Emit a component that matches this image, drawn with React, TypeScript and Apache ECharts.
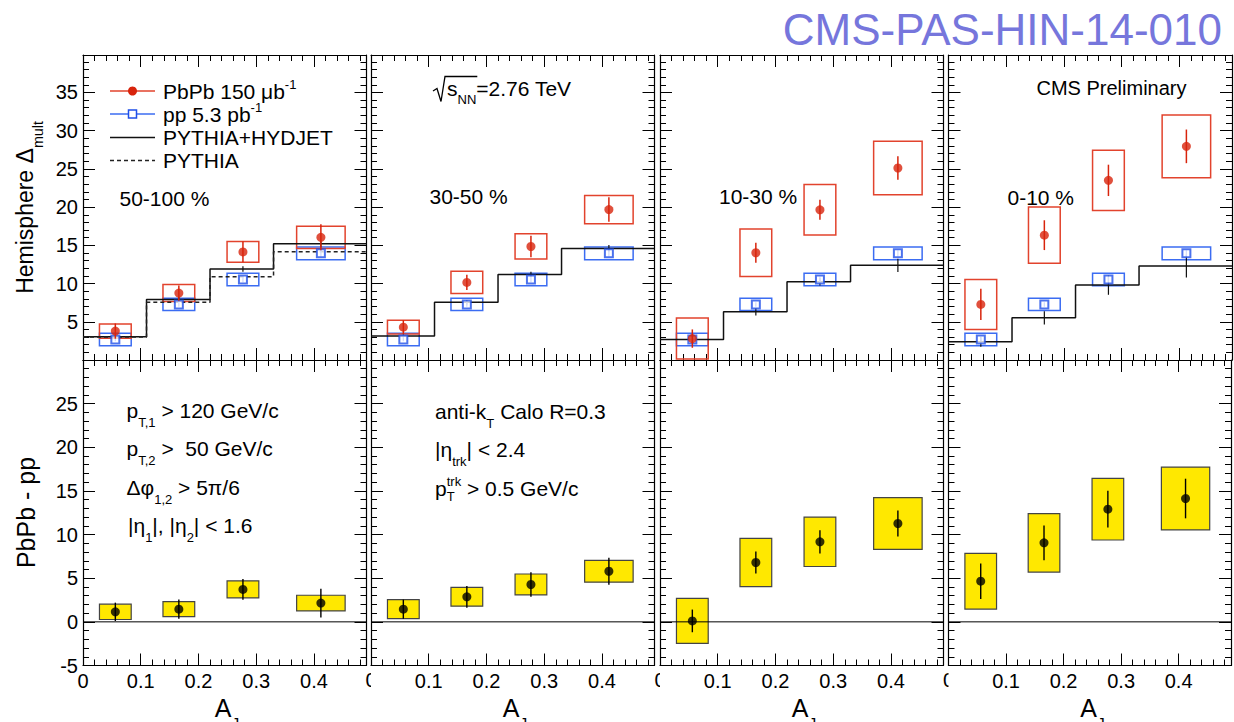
import React, { useEffect, useRef } from "react";
import * as echarts from "echarts";

// ---------------- data ----------------
const AJ_MEAN = [0.056, 0.166, 0.277, 0.412];
const BIN_EDGES = [0, 0.11, 0.22, 0.33, 0.491];
const BOX_HALF_WIDTH = [0.0275, 0.0275, 0.0275, 0.042];
const CENTRALITY = ["50-100 %", "30-50 %", "10-30 %", "0-10 %"];

const X_TICKS = [0, 0.1, 0.2, 0.3, 0.4];
const X_TICK_LABELS = ["0", "0.1", "0.2", "0.3", "0.4"];
const TOP_Y_TICKS = [5, 10, 15, 20, 25, 30, 35];
const BOT_Y_TICKS = [-5, 0, 5, 10, 15, 20, 25];

// PbPb hemisphere Delta_mult, per centrality (50-100, 30-50, 10-30, 0-10)
const PBPB_50_100 = [3.78, 8.76, 14.14, 16.05];
const PBPB_30_50 = [4.3, 10.15, 14.85, 19.68];
const PBPB_10_30 = [2.8, 14.03, 19.65, 25.12];
const PBPB_0_10 = [7.27, 16.33, 23.5, 27.95];
const PBPB_STAT_50_100 = [1.0, 1.0, 1.35, 1.7];
const PBPB_STAT_30_50 = [0.9, 1.0, 1.4, 1.6];
const PBPB_STAT_10_30 = [1.2, 1.3, 1.3, 1.55];
const PBPB_STAT_0_10 = [2.05, 1.95, 2.05, 2.2];
const PBPB_SYS_50_100 = [0.93, 1.12, 1.35, 1.46];
const PBPB_SYS_30_50 = [0.9, 1.46, 1.65, 1.85];
const PBPB_SYS_10_30 = [2.68, 3.1, 3.3, 3.5];
const PBPB_SYS_0_10 = [3.27, 3.67, 3.93, 4.1];

// pp reference (same in every panel)
const PP_VAL = [2.69, 7.27, 10.53, 13.95];
const PP_STAT = [0.25, 0.3, 0.35, 0.4];
const PP_SYS = [0.81, 0.81, 0.82, 0.82];

// PYTHIA+HYDJET histogram per centrality and its stat errors
const HYDJET_50_100 = [3.04, 7.93, 11.9, 15.2];
const HYDJET_30_50 = [3.13, 7.54, 11.2, 14.6];
const HYDJET_10_30 = [2.69, 6.31, 10.24, 12.38];
const HYDJET_0_10 = [2.38, 5.52, 9.8, 12.29];
const HYDJET_ERR_50_100 = [0.2, 0.3, 0.35, 0.45];
const HYDJET_ERR_30_50 = [0.2, 0.3, 0.35, 0.45];
const HYDJET_ERR_10_30 = [0.3, 0.5, 0.5, 0.87];
const HYDJET_ERR_0_10 = [0.65, 0.87, 1.27, 1.5];
const PYTHIA = [3.0, 7.54, 10.9, 14.16];

// PbPb - pp
const DIFF_50_100 = [1.15, 1.45, 3.72, 2.15];
const DIFF_30_50 = [1.45, 2.87, 4.28, 5.8];
const DIFF_10_30 = [0.11, 6.8, 9.17, 11.27];
const DIFF_0_10 = [4.66, 9.05, 12.91, 14.13];
const DIFF_STAT_50_100 = [1.05, 1.1, 1.2, 1.65];
const DIFF_STAT_30_50 = [1.1, 1.25, 1.4, 1.55];
const DIFF_STAT_10_30 = [1.3, 1.25, 1.33, 1.5];
const DIFF_STAT_0_10 = [2.04, 2.0, 2.1, 2.27];
const DIFF_SYS_50_100 = [0.88, 0.86, 0.98, 0.9];
const DIFF_SYS_30_50 = [1.09, 1.07, 1.2, 1.25];
const DIFF_SYS_10_30 = [2.58, 2.77, 2.83, 2.96];
const DIFF_SYS_0_10 = [3.19, 3.35, 3.53, 3.6];

const PBPB = [PBPB_50_100, PBPB_30_50, PBPB_10_30, PBPB_0_10];
const PBPB_STAT = [PBPB_STAT_50_100, PBPB_STAT_30_50, PBPB_STAT_10_30, PBPB_STAT_0_10];
const PBPB_SYS = [PBPB_SYS_50_100, PBPB_SYS_30_50, PBPB_SYS_10_30, PBPB_SYS_0_10];
const HYDJET = [HYDJET_50_100, HYDJET_30_50, HYDJET_10_30, HYDJET_0_10];
const HYDJET_ERR = [HYDJET_ERR_50_100, HYDJET_ERR_30_50, HYDJET_ERR_10_30, HYDJET_ERR_0_10];
const DIFF = [DIFF_50_100, DIFF_30_50, DIFF_10_30, DIFF_0_10];
const DIFF_STAT = [DIFF_STAT_50_100, DIFF_STAT_30_50, DIFF_STAT_10_30, DIFF_STAT_0_10];
const DIFF_SYS = [DIFF_SYS_50_100, DIFF_SYS_30_50, DIFF_SYS_10_30, DIFF_SYS_0_10];

// ---------------- layout & style ----------------
const FONT = '"Liberation Sans", Arial, Helvetica, sans-serif';
const RED = "#d8240c";
const RED_BOX = "#e2432d";
const BLUE = "#1f4fe8";
const BLUE_BOX = "#3b6cf2";
const YELLOW = "#ffe800";
const TITLE_COLOR = "#7676dc";

const COL_LEFT = [83, 371, 660, 948.5];
const PANEL_W = 283.5;
const ROW_TOP = [55, 360];
const ROW_H = [305, 305.5];
const X_MAX = 0.491;
const Y_RANGE = [
  [0, 39.9],
  [-5, 30],
];

let measureCtx: CanvasRenderingContext2D | null = null;
function textWidth(t: string, size: number): number {
  if (!measureCtx) measureCtx = document.createElement("canvas").getContext("2d");
  if (!measureCtx) return t.length * size * 0.55;
  measureCtx.font = `${size}px ${FONT}`;
  return measureCtx.measureText(t).width;
}

function txt(x: number, y: number, text: string, size: number, color = "#000", align = "left") {
  return {
    type: "text",
    x,
    y,
    silent: true,
    style: {
      text,
      fontSize: size,
      fontFamily: FONT,
      fill: color,
      align,
      verticalAlign: "middle",
      textAlign: align,
      textVerticalAlign: "middle",
    },
  };
}

type Seg = { t?: string; sub?: string; sup?: string };
function richLine(
  x: number,
  y: number,
  segs: Seg[],
  size: number,
  opt: { rotate?: boolean; center?: boolean; color?: string; subDy?: number } = {}
) {
  const color = opt.color || "#000";
  const small = size * 0.62;
  const subDy = opt.subDy ?? 0.58;
  const children: any[] = [];
  let cx = 0;
  for (const s of segs) {
    if (s.t !== undefined) {
      children.push(txt(cx, 0, s.t, size, color));
      cx += textWidth(s.t, size);
    } else {
      let w = 0;
      if (s.sub) {
        children.push(txt(cx, size * subDy, s.sub, small, color));
        w = Math.max(w, textWidth(s.sub, small));
      }
      if (s.sup) {
        children.push(txt(cx, -size * 0.32, s.sup, small, color));
        w = Math.max(w, textWidth(s.sup, small));
      }
      cx += w;
    }
  }
  if (opt.center) for (const ch of children) ch.x -= cx / 2;
  return { type: "group", x, y, rotation: opt.rotate ? Math.PI / 2 : 0, children, width: cx };
}

function boxRender(stroke: string, fill: string, lw: number) {
  return (_p: any, api: any) => {
    const x = api.value(0);
    const lo = api.value(1);
    const hi = api.value(2);
    const hw = api.value(3);
    const a = api.coord([x - hw, hi]);
    const b = api.coord([x + hw, lo]);
    return {
      type: "rect",
      shape: { x: a[0], y: a[1], width: b[0] - a[0], height: b[1] - a[1] },
      style: { fill, stroke, lineWidth: lw },
    };
  };
}
function errRender(stroke: string, lw: number) {
  return (_p: any, api: any) => {
    const x = api.value(0);
    const a = api.coord([x, api.value(1)]);
    const b = api.coord([x, api.value(2)]);
    return {
      type: "line",
      shape: { x1: a[0], y1: a[1], x2: b[0], y2: b[1] },
      style: { stroke, lineWidth: lw },
    };
  };
}

function findLabel(v: number, ticks: number[], labels: string[]) {
  const i = ticks.findIndex((t) => Math.abs(t - v) < 1e-6);
  return i < 0 ? "" : labels[i];
}

function buildOption() {
  const grid: any[] = [];
  const xAxis: any[] = [];
  const yAxis: any[] = [];
  const series: any[] = [];

  const axisLine = { show: true, onZero: false, lineStyle: { color: "#000", width: 1.2 } };
  const axisTick = { show: true, inside: true, length: 12, lineStyle: { color: "#000", width: 1 } };
  const minorTick = { show: true, splitNumber: 5, length: 6, lineStyle: { color: "#000", width: 1 } };
  const labelBase = { color: "#000", fontSize: 20, fontFamily: FONT };

  for (let r = 0; r < 2; r++) {
    for (let c = 0; c < 4; c++) {
      const gi = r * 4 + c;
      grid.push({ left: COL_LEFT[c], top: ROW_TOP[r], width: PANEL_W, height: ROW_H[r], show: false });
      const xCommon = {
        type: "value",
        gridIndex: gi,
        min: 0,
        max: X_MAX,
        interval: 0.1,
        axisLine,
        axisTick,
        minorTick,
        splitLine: { show: false },
        minorSplitLine: { show: false },
      };
      xAxis.push({
        ...xCommon,
        position: "bottom",
        axisLabel: {
          ...labelBase,
          show: r === 1,
          margin: 5,
          formatter: (v: number) => {
            if (c > 0 && Math.abs(v) < 1e-6) return "";
            return findLabel(v, X_TICKS, X_TICK_LABELS);
          },
        },
      });
      xAxis.push({ ...xCommon, position: "top", axisLabel: { show: false } });
      const ticks = r === 0 ? TOP_Y_TICKS : BOT_Y_TICKS;
      const yCommon = {
        type: "value",
        gridIndex: gi,
        min: Y_RANGE[r][0],
        max: Y_RANGE[r][1],
        interval: 5,
        axisLine,
        axisTick,
        minorTick,
        splitLine: { show: false },
        minorSplitLine: { show: false },
      };
      yAxis.push({
        ...yCommon,
        position: "left",
        axisLabel: {
          ...labelBase,
          show: c === 0,
          margin: 5,
          formatter: (v: number) => findLabel(v, ticks, ticks.map(String)),
        },
      });
      yAxis.push({ ...yCommon, position: "right", axisLabel: { show: false } });

      const xi = 2 * gi;
      const yi = 2 * gi;
      const base = { xAxisIndex: xi, yAxisIndex: yi, silent: true };

      if (r === 0) {
        series.push({
          ...base,
          type: "custom",
          z: 2,
          renderItem: boxRender(BLUE_BOX, "none", 1.5),
          encode: { x: 0, y: [1, 2] },
          data: AJ_MEAN.map((x, i) => [x, PP_VAL[i] - PP_SYS[i], PP_VAL[i] + PP_SYS[i], BOX_HALF_WIDTH[i]]),
        });
        series.push({
          ...base,
          type: "custom",
          z: 2,
          renderItem: boxRender(RED_BOX, "none", 1.5),
          encode: { x: 0, y: [1, 2] },
          data: AJ_MEAN.map((x, i) => [
            x,
            PBPB[c][i] - PBPB_SYS[c][i],
            PBPB[c][i] + PBPB_SYS[c][i],
            BOX_HALF_WIDTH[i],
          ]),
        });
        series.push({
          ...base,
          type: "line",
          step: "end",
          z: 3,
          symbol: "none",
          lineStyle: { color: "#111", width: 1.5 },
          data: BIN_EDGES.map((e, i) => [e, HYDJET[c][Math.min(i, 3)]]),
        });
        if (c === 0) {
          series.push({
            ...base,
            type: "line",
            step: "end",
            z: 3,
            symbol: "none",
            lineStyle: { color: "#222", width: 1.5, type: [4, 3] },
            data: BIN_EDGES.map((e, i) => [e, PYTHIA[Math.min(i, 3)]]),
          });
        }
        series.push({
          ...base,
          type: "custom",
          z: 4,
          renderItem: errRender("#111", 1.2),
          encode: { x: 0, y: [1, 2] },
          data: AJ_MEAN.map((x, i) => [x, HYDJET[c][i] - HYDJET_ERR[c][i], HYDJET[c][i] + HYDJET_ERR[c][i]]),
        });
        series.push({
          ...base,
          type: "custom",
          z: 4,
          renderItem: errRender(BLUE, 1.3),
          encode: { x: 0, y: [1, 2] },
          data: AJ_MEAN.map((x, i) => [x, PP_VAL[i] - PP_STAT[i], PP_VAL[i] + PP_STAT[i]]),
        });
        series.push({
          ...base,
          type: "scatter",
          z: 5,
          symbol: "emptyRect",
          symbolSize: 8,
          itemStyle: { color: BLUE, borderColor: BLUE, borderWidth: 1.5 },
          data: AJ_MEAN.map((x, i) => [x, PP_VAL[i]]),
        });
        series.push({
          ...base,
          type: "custom",
          z: 6,
          renderItem: errRender(RED, 1.5),
          encode: { x: 0, y: [1, 2] },
          data: AJ_MEAN.map((x, i) => [x, PBPB[c][i] - PBPB_STAT[c][i], PBPB[c][i] + PBPB_STAT[c][i]]),
        });
        series.push({
          ...base,
          type: "scatter",
          z: 7,
          symbol: "circle",
          symbolSize: 9,
          itemStyle: { color: RED },
          data: AJ_MEAN.map((x, i) => [x, PBPB[c][i]]),
        });
      } else {
        series.push({
          ...base,
          type: "custom",
          z: 2,
          renderItem: boxRender("#444", YELLOW, 1.2),
          encode: { x: 0, y: [1, 2] },
          data: AJ_MEAN.map((x, i) => [
            x,
            DIFF[c][i] - DIFF_SYS[c][i],
            DIFF[c][i] + DIFF_SYS[c][i],
            BOX_HALF_WIDTH[i],
          ]),
        });
        series.push({
          ...base,
          type: "line",
          z: 3,
          symbol: "none",
          lineStyle: { color: "#000", width: 1 },
          data: [
            [0, 0],
            [X_MAX, 0],
          ],
        });
        series.push({
          ...base,
          type: "custom",
          z: 4,
          renderItem: errRender("#000", 1.4),
          encode: { x: 0, y: [1, 2] },
          data: AJ_MEAN.map((x, i) => [x, DIFF[c][i] - DIFF_STAT[c][i], DIFF[c][i] + DIFF_STAT[c][i]]),
        });
        series.push({
          ...base,
          type: "scatter",
          z: 5,
          symbol: "circle",
          symbolSize: 9,
          itemStyle: { color: "#000" },
          data: AJ_MEAN.map((x, i) => [x, DIFF[c][i]]),
        });
      }
    }
  }

  // ---------------- graphic texts ----------------
  const graphic: any[] = [];
  graphic.push(txt(1222, 29, "CMS-PAS-HIN-14-010", 44, TITLE_COLOR, "right"));
  graphic.push(richLine(25, 207.5, [{ t: "Hemisphere Δ" }, { sub: "mult" }], 23, { rotate: true, center: true }));
  graphic.push(richLine(26, 512.5, [{ t: "PbPb - pp" }], 25, { rotate: true, center: true }));
  for (let c = 0; c < 4; c++) {
    graphic.push(richLine(COL_LEFT[c] + 144, 708, [{ t: "A" }, { sub: "J" }], 25, { center: true }));
  }

  // legend
  const LX1 = 110;
  const LX2 = 155;
  const LMX = 132.5;
  const LTX = 163;
  const LY = [91, 114, 137.5, 160.5];
  graphic.push({ type: "line", shape: { x1: LX1, y1: LY[0], x2: LX2, y2: LY[0] }, style: { stroke: RED_BOX, lineWidth: 1.5 } });
  graphic.push({ type: "circle", shape: { cx: LMX, cy: LY[0], r: 4.5 }, style: { fill: RED } });
  graphic.push(richLine(LTX, LY[0], [{ t: "PbPb 150 μb" }, { sup: "-1" }], 21));
  graphic.push({ type: "line", shape: { x1: LX1, y1: LY[1], x2: LX2, y2: LY[1] }, style: { stroke: BLUE_BOX, lineWidth: 1.5 } });
  graphic.push({ type: "rect", shape: { x: LMX - 4, y: LY[1] - 4, width: 8, height: 8 }, style: { fill: "#fff", stroke: BLUE, lineWidth: 1.5 } });
  graphic.push(richLine(LTX, LY[1], [{ t: "pp 5.3 pb" }, { sup: "-1" }], 21));
  graphic.push({ type: "line", shape: { x1: LX1, y1: LY[2], x2: LX2, y2: LY[2] }, style: { stroke: "#111", lineWidth: 1.5 } });
  graphic.push(txt(LTX, LY[2], "PYTHIA+HYDJET", 21));
  graphic.push({
    type: "line",
    shape: { x1: LX1, y1: LY[3], x2: LX2, y2: LY[3] },
    style: { stroke: "#222", lineWidth: 1.5, lineDash: [4, 3] },
  });
  graphic.push(txt(LTX, LY[3], "PYTHIA", 21));

  // centrality labels
  const CENT_POS = [
    [119.5, 198],
    [429.5, 196.5],
    [719, 196.5],
    [1007.5, 197],
  ];
  for (let c = 0; c < 4; c++) graphic.push(txt(CENT_POS[c][0], CENT_POS[c][1], CENTRALITY[c], 21));
  graphic.push(txt(1036.5, 88, "CMS Preliminary", 20));

  // sqrt(s_NN) = 2.76 TeV
  const sx = 447;
  const sW = textWidth("s", 21) + textWidth("NN", 21 * 0.62);
  graphic.push({
    type: "polyline",
    shape: { points: [[433, 91], [437, 88.5], [441, 101.5], [445, 76.5], [sx + sW + 1, 76.5]] },
    style: { stroke: "#000", lineWidth: 1.3, fill: "none" },
  });
  graphic.push(richLine(sx, 88.5, [{ t: "s" }, { sub: "NN" }, { t: "=2.76 TeV" }], 21, { subDy: 0.5 }));

  // cuts
  graphic.push(richLine(126.5, 410, [{ t: "p" }, { sub: "T,1" }, { t: " > 120 GeV/c" }], 21));
  graphic.push(richLine(126.5, 448, [{ t: "p" }, { sub: "T,2" }, { t: " >  50 GeV/c" }], 21));
  graphic.push(richLine(126.5, 487, [{ t: "Δφ" }, { sub: "1,2" }, { t: " > 5π/6" }], 21));
  graphic.push(
    richLine(128, 525, [{ t: "|η" }, { sub: "1" }, { t: "|, |η" }, { sub: "2" }, { t: "| < 1.6" }], 21)
  );
  graphic.push(richLine(435, 411.5, [{ t: "anti-k" }, { sub: "T" }, { t: " Calo R=0.3" }], 21));
  graphic.push(richLine(435, 449.5, [{ t: "|η" }, { sub: "trk" }, { t: "| < 2.4" }], 21));
  graphic.push(richLine(435, 488, [{ t: "p" }, { sub: "T", sup: "trk" }, { t: " > 0.5 GeV/c" }], 21, { subDy: 0.42 }));

  // clipped "0" labels at the pad boundaries
  for (let c = 1; c < 4; c++) {
    graphic.push(txt(COL_LEFT[c], 680, "0", 20, "#000", "center"));
    graphic.push({
      type: "rect",
      shape: { x: COL_LEFT[c], y: 669, width: 8, height: 24 },
      style: { fill: "#fff" },
    });
  }

  return {
    animation: false,
    backgroundColor: "#fff",
    grid,
    xAxis,
    yAxis,
    series,
    graphic,
  };
}

export default function App() {
  const ref = useRef<HTMLDivElement>(null);
  useEffect(() => {
    document.body.style.margin = "0";
    const chart = echarts.init(ref.current as HTMLDivElement, null, { renderer: "svg" });
    chart.setOption(buildOption() as any);
    return () => chart.dispose();
  }, []);
  return (
    <div
      ref={ref}
      style={{ position: "absolute", left: 0, top: 0, width: 1234, height: 722, background: "#fff" }}
    />
  );
}
